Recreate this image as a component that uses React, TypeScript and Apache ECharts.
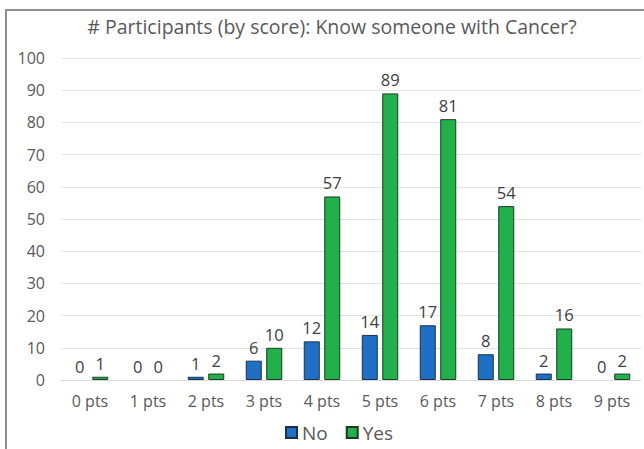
import React, { useEffect, useRef } from "react";
import * as echarts from "echarts";

const categories = ["0 pts", "1 pts", "2 pts", "3 pts", "4 pts", "5 pts", "6 pts", "7 pts", "8 pts", "9 pts"];
const noValues = [0, 0, 1, 6, 12, 14, 17, 8, 2, 0];
const yesValues = [1, 0, 2, 10, 57, 89, 81, 54, 16, 2];
const titleText = "# Participants (by score): Know someone with Cancer?";

const FONT = "'Open Sans', 'Noto Sans', sans-serif";

const toBarData = (vals: number[]) =>
  vals.map((v) => (v === 0 ? { value: v, itemStyle: { borderWidth: 0 } } : v));

export default function App() {
  const ref = useRef<HTMLDivElement>(null);
  useEffect(() => {
    if (!ref.current) return;
    const chart = echarts.init(ref.current, undefined, { renderer: "svg" });
    const label = {
      show: true,
      position: "top" as const,
      distance: 5,
      color: "#404040",
      fontSize: 16.5,
      fontFamily: FONT,
    };
    chart.setOption({
      animation: false,
      backgroundColor: "#ffffff",
      title: {
        text: titleText,
        left: 327,
        textAlign: "center",
        top: 11,
        textStyle: { color: "#595959", fontSize: 19.5, fontWeight: "normal", fontFamily: FONT },
      },
      graphic: [
        {
          type: "rect",
          shape: { x: 6, y: 10, width: 700, height: 500 },
          style: { fill: "none", stroke: "#8c8c8c", lineWidth: 2 },
          silent: true,
        },
      ],
      legend: {
        data: ["No", "Yes"],
        left: 280,
        bottom: 2,
        itemWidth: 11,
        itemHeight: 11,
        itemGap: 18,
        icon: "rect",
        textStyle: { color: "#595959", fontSize: 19, fontFamily: FONT, padding: [0, 0, 0, 0] },
      },
      grid: { left: 61, right: 3, top: 58, bottom: 69 },
      xAxis: {
        type: "category",
        data: categories,
        axisLine: { show: true, lineStyle: { color: "#d9d9d9" } },
        axisTick: { show: false },
        axisLabel: { color: "#595959", fontSize: 16, fontFamily: FONT, margin: 13 },
      },
      yAxis: {
        type: "value",
        min: 0,
        max: 100,
        interval: 10,
        axisLine: { show: false },
        axisTick: { show: false },
        axisLabel: { color: "#595959", fontSize: 16, fontFamily: FONT, margin: 16 },
        splitLine: { lineStyle: { color: "#e3e3e3" } },
      },
      series: [
        {
          name: "No",
          type: "bar",
          data: toBarData(noValues),
          barWidth: 16,
          barGap: "28%",
          itemStyle: { color: "#1f6fc5", borderColor: "#1b2f4a", borderWidth: 1 },
          label,
        },
        {
          name: "Yes",
          type: "bar",
          data: toBarData(yesValues),
          barWidth: 16,
          itemStyle: { color: "#22b04b", borderColor: "#1d3a26", borderWidth: 1 },
          label,
        },
      ],
    });
    return () => chart.dispose();
  }, []);
  return (
    <div
      ref={ref}
      style={{ position: "fixed", left: 0, top: 0, width: 644, height: 449 }}
    />
  );
}
